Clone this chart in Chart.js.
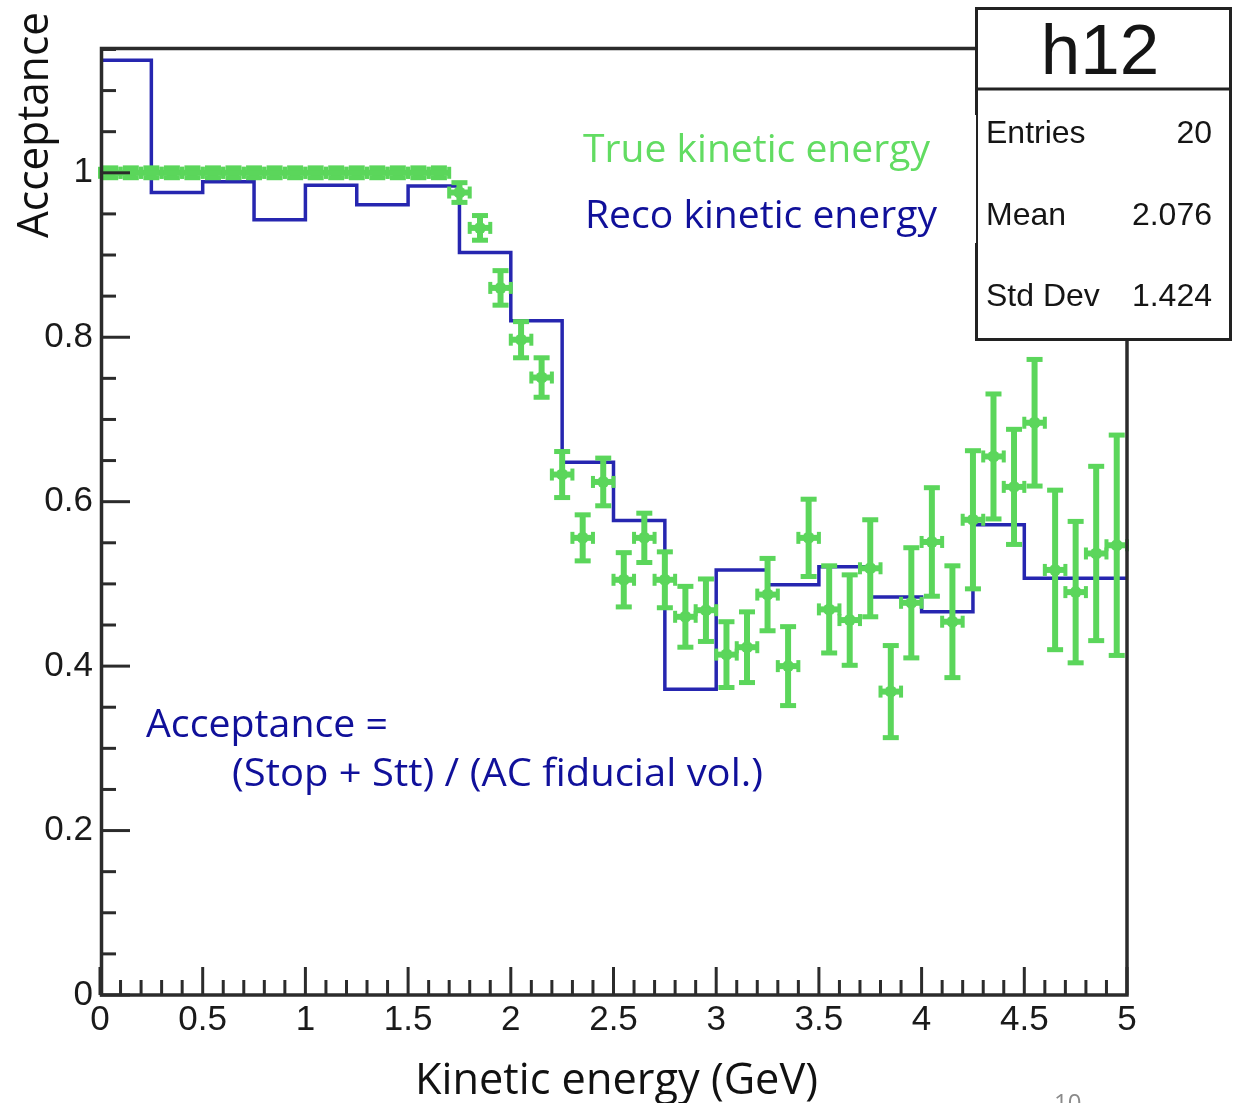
<!DOCTYPE html>
<html>
<head>
<meta charset="utf-8">
<script src="https://cdn.jsdelivr.net/npm/chart.js@4.4.1/dist/chart.umd.min.js"></script>
<style>
  html, body { margin: 0; padding: 0; background: #fff; }
  #wrap { width: 1234px; height: 1103px; position: relative; }
</style>
</head>
<body>
<div id="wrap"><canvas id="c" width="1234" height="1103"></canvas></div>
<script>
// --- DATA ---
// Reco kinetic energy: 20 bins of 0.25 GeV (left edges, plus the last right edge)
const recoEdges = [0, 0.25, 0.5, 0.75, 1, 1.25, 1.5, 1.75, 2, 2.25, 2.5, 2.75, 3, 3.25, 3.5, 3.75, 4, 4.25, 4.5, 4.75, 5];
const recoValues = [1.137, 0.976, 0.989, 0.943, 0.985, 0.961, 0.984, 0.903, 0.820, 0.648,
                    0.577, 0.372, 0.517, 0.499, 0.521, 0.484, 0.466, 0.572, 0.507, 0.507];

// True kinetic energy: 50 bins of 0.1 GeV (bin centres, values, vertical errors)
const trueCenters = [0.05, 0.15, 0.25, 0.35, 0.45, 0.55, 0.65, 0.75, 0.85, 0.95,
                     1.05, 1.15, 1.25, 1.35, 1.45, 1.55, 1.65, 1.75, 1.85, 1.95,
                     2.05, 2.15, 2.25, 2.35, 2.45, 2.55, 2.65, 2.75, 2.85, 2.95,
                     3.05, 3.15, 3.25, 3.35, 3.45, 3.55, 3.65, 3.75, 3.85, 3.95,
                     4.05, 4.15, 4.25, 4.35, 4.45, 4.55, 4.65, 4.75, 4.85, 4.95];
const trueValues = [1, 1, 1, 1, 1, 1, 1, 1, 1, 1,
                    1, 1, 1, 1, 1, 1, 1, 0.976, 0.933, 0.860,
                    0.797, 0.751, 0.633, 0.556, 0.624, 0.505, 0.556, 0.505, 0.460, 0.468,
                    0.414, 0.423, 0.487, 0.400, 0.556, 0.469, 0.456, 0.519, 0.369, 0.477,
                    0.551, 0.454, 0.578, 0.655, 0.618, 0.696, 0.517, 0.490, 0.537, 0.547];
const trueErrors = [0.006, 0.006, 0.006, 0.006, 0.006, 0.006, 0.006, 0.006, 0.006, 0.006,
                    0.006, 0.006, 0.006, 0.006, 0.006, 0.006, 0.006, 0.012, 0.015, 0.021,
                    0.022, 0.024, 0.028, 0.028, 0.029, 0.033, 0.030, 0.034, 0.037, 0.038,
                    0.040, 0.043, 0.044, 0.048, 0.047, 0.053, 0.055, 0.059, 0.056, 0.067,
                    0.066, 0.068, 0.084, 0.076, 0.070, 0.077, 0.097, 0.086, 0.106, 0.134];
const trueHalfWidth = 0.05;

// axes
const xTickValues = [0, 0.5, 1, 1.5, 2, 2.5, 3, 3.5, 4, 4.5, 5];
const xTickLabels = ['0', '0.5', '1', '1.5', '2', '2.5', '3', '3.5', '4', '4.5', '5'];
const yTickValues = [0, 0.2, 0.4, 0.6, 0.8, 1];
const yTickLabels = ['0', '0.2', '0.4', '0.6', '0.8', '1'];

// stats box
const statTitle = 'h12';
const statNames = ['Entries', 'Mean', 'Std Dev'];
const statValues = ['20', '2.076', '1.424'];

const GREEN = '#5bd65b';
const BLUE = '#2626b0';
const NAVY = '#10109a';
const ROOTFONT = '"Liberation Sans", Arial, sans-serif';
const SLIDEFONT = '"Open Sans", "Noto Sans", sans-serif';

// text squeezed/stretched to the width it has on the slide
function fitText(ctx, str, left, base, width, size, family, color) {
    ctx.save();
    ctx.font = size + 'px ' + family;
    const w = ctx.measureText(str).width;
    ctx.translate(left, base);
    ctx.scale(width / w, 1);
    ctx.fillStyle = color;
    ctx.textAlign = 'left';
    ctx.textBaseline = 'alphabetic';
    ctx.fillText(str, 0, 0);
    ctx.restore();
}

function seg(ctx, x0, y0, x1, y1) {
    ctx.beginPath(); ctx.moveTo(x0, y0); ctx.lineTo(x1, y1); ctx.stroke();
}

// --- ERROR BARS FOR THE TRUE SERIES ---
const errorBars = {
    id: 'errorBars',
    afterDatasetsDraw(chart) {
        const { ctx, scales: { x, y } } = chart;
        ctx.save();
        ctx.strokeStyle = GREEN; ctx.fillStyle = GREEN;
        ctx.lineWidth = 6;
        trueCenters.forEach((c, i) => {
            const px = x.getPixelForValue(c), py = y.getPixelForValue(trueValues[i]);
            const x0 = x.getPixelForValue(c - trueHalfWidth), x1 = x.getPixelForValue(c + trueHalfWidth);
            const yT = y.getPixelForValue(trueValues[i] + trueErrors[i]);
            const yB = y.getPixelForValue(trueValues[i] - trueErrors[i]);
            seg(ctx, px, yT, px, yB);
            seg(ctx, x0, py, x1, py);
            ctx.fillRect(px - 8, yT - 2.5, 16, 5);
            ctx.fillRect(px - 8, yB - 2.5, 16, 5);
            ctx.fillRect(x0 - 2, py - 6, 4, 12);
            ctx.fillRect(x1 - 2, py - 6, 4, 12);
        });
        ctx.restore();
    }
};

// --- ROOT STYLE FRAME, TICKS, STATS BOX AND SLIDE TEXT ---
const rootFrame = {
    id: 'rootFrame',
    afterDraw(chart) {
        const { ctx, chartArea: a, scales: { x, y } } = chart;
        ctx.save();
        ctx.strokeStyle = '#2b2b2b';
        ctx.lineWidth = 3.5;
        ctx.strokeRect(a.left + 1.5, a.top + 1.5, a.right - a.left - 1.5, a.bottom - a.top - 1.5);

        ctx.lineWidth = 3;
        // y ticks: major every 0.2, minor every 0.05
        for (let k = 0; k <= 23; k++) {
            const v = k * 0.05, py = y.getPixelForValue(v);
            const len = (k % 4 === 0) ? 30 : 16;
            seg(ctx, a.left, py, a.left + len, py);
        }
        // x ticks: major every 0.5, minor every 0.1
        for (let k = 0; k <= 50; k++) {
            const px = x.getPixelForValue(k * 0.1);
            const len = (k % 5 === 0) ? 28 : 15;
            seg(ctx, px, a.bottom, px, a.bottom - len);
        }

        // stats box
        ctx.fillStyle = '#fff';
        ctx.fillRect(975, 8, 256, 332);
        ctx.strokeStyle = '#222';
        ctx.lineWidth = 3;
        ctx.strokeRect(976.5, 8.5, 254, 331);
        seg(ctx, 976, 89, 1231, 89);
        ctx.fillStyle = '#151515';
        ctx.font = '71px ' + ROOTFONT;
        ctx.textAlign = 'center';
        ctx.textBaseline = 'alphabetic';
        ctx.fillText(statTitle, 1100, 74);
        ctx.font = '32px ' + ROOTFONT;
        const bases = [143, 225, 306];
        statNames.forEach((n, i) => {
            ctx.textAlign = 'left'; ctx.fillText(n, 986, bases[i]);
            ctx.textAlign = 'right'; ctx.fillText(statValues[i], 1212, bases[i]);
        });

        // white slide text box over the plot (hides part of the stats border)
        ctx.fillStyle = '#fff';
        ctx.fillRect(940, 115, 36, 128);

        // legend-like slide text
        fitText(ctx, 'True kinetic energy', 583, 162, 347, 39, SLIDEFONT, '#62dc62');
        fitText(ctx, 'Reco kinetic energy', 585, 228, 352, 39, SLIDEFONT, NAVY);
        fitText(ctx, 'Acceptance =', 146, 737, 242, 39, SLIDEFONT, NAVY);
        fitText(ctx, '(Stop + Stt) / (AC fiducial vol.)', 232, 786, 531, 39, SLIDEFONT, NAVY);

        // axis titles
        fitText(ctx, 'Kinetic energy (GeV)', 415, 1094, 403, 43, SLIDEFONT, '#111');
        ctx.save();
        ctx.translate(48, 238);
        ctx.rotate(-Math.PI / 2);
        fitText(ctx, 'Acceptance', 0, 0, 226, 43, SLIDEFONT, '#111');
        ctx.restore();

        // slide page number, cut by the bottom edge
        ctx.fillStyle = '#8a8a8a';
        ctx.font = '24px ' + SLIDEFONT;
        ctx.textAlign = 'left';
        ctx.textBaseline = 'top';
        ctx.fillText('10', 1054, 1092);
        ctx.restore();
    }
};

const recoPoints = recoValues.map((v, i) => ({ x: recoEdges[i], y: v }));
recoPoints.push({ x: recoEdges[recoEdges.length - 1], y: recoValues[recoValues.length - 1] });
const truePoints = trueCenters.map((c, i) => ({ x: c, y: trueValues[i] }));

const tickFont = { family: ROOTFONT, size: 35 };

new Chart(document.getElementById('c'), {
    type: 'scatter',
    data: {
        datasets: [
            {
                label: 'True kinetic energy',
                data: truePoints,
                order: 1,
                showLine: false,
                pointStyle: 'circle',
                pointRadius: 6,
                pointBackgroundColor: GREEN,
                pointBorderColor: GREEN,
                pointBorderWidth: 0
            },
            {
                label: 'Reco kinetic energy',
                type: 'line',
                data: recoPoints,
                order: 2,
                stepped: true,
                borderColor: BLUE,
                borderWidth: 3.5,
                pointRadius: 0,
                fill: false
            }
        ]
    },
    options: {
        responsive: false,
        animation: false,
        devicePixelRatio: 1,
        layout: { padding: { left: 0, top: 47, right: 107, bottom: 0 } },
        plugins: { legend: { display: false }, tooltip: { enabled: false } },
        scales: {
            x: {
                type: 'linear', min: 0, max: 5,
                grid: { display: false, drawTicks: false, tickLength: 0 },
                border: { display: false },
                afterBuildTicks: s => { s.ticks = xTickValues.map(v => ({ value: v })); },
                afterFit: s => { s.height = 108; },
                ticks: {
                    font: tickFont, color: '#1a1a1a', padding: 4, maxRotation: 0, autoSkip: false,
                    callback: (v, i) => xTickLabels[i]
                }
            },
            y: {
                type: 'linear', min: 0, max: 1.153,
                grid: { display: false, drawTicks: false, tickLength: 0 },
                border: { display: false },
                afterBuildTicks: s => { s.ticks = yTickValues.map(v => ({ value: v })); },
                afterFit: s => { s.width = 100; },
                ticks: {
                    font: tickFont, color: '#1a1a1a', padding: 7, autoSkip: false,
                    callback: (v, i) => yTickLabels[i]
                }
            }
        }
    },
    plugins: [errorBars, rootFrame]
});
</script>
</body>
</html>
